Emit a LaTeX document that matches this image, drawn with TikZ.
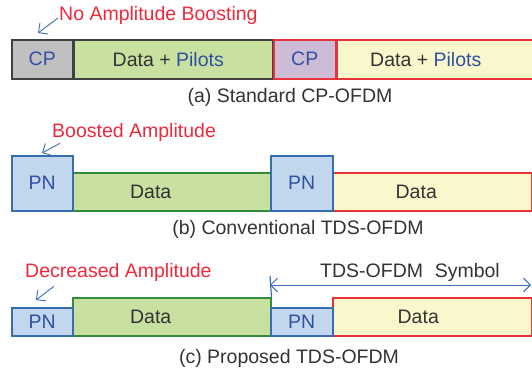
\documentclass[tikz,border=0pt]{standalone}
\usepackage{fontspec}
\setmainfont{Liberation Sans}
\usetikzlibrary{arrows.meta,positioning}
\definecolor{cpgray}{RGB}{192,192,192}
\definecolor{datagreen}{RGB}{200,224,160}
\definecolor{edgegreen}{RGB}{50,140,60}
\definecolor{cppurple}{RGB}{204,188,214}
\definecolor{symyellow}{RGB}{250,247,205}
\definecolor{edgered}{RGB}{232,50,60}
\definecolor{pnblue}{RGB}{194,214,238}
\definecolor{edgeblue}{RGB}{55,110,175}
\definecolor{txtblue}{RGB}{50,80,160}
\definecolor{notered}{RGB}{240,40,60}
\definecolor{arrblue}{RGB}{60,110,190}

\begin{document}
\begin{tikzpicture}[
        x=1pt, y=-1pt,
        every node/.style={font=\fontsize{19.5}{22}\selectfont, text=black!80},
        seg/.style={draw, line width=1.5pt, anchor=north west, inner sep=0pt},
        cpbox/.style={seg, text=txtblue},
        pnbox/.style={seg, fill=pnblue, draw=edgeblue, text=txtblue},
        greenbox/.style={seg, fill=datagreen, draw=edgegreen},
        yellowbox/.style={seg, fill=symyellow, draw=edgered},
        note/.style={text=notered, inner sep=1pt},
        arr/.style={-{Straight Barb[length=2.4mm]}, line width=0.9pt, arrblue},
        dim/.style={{Straight Barb[length=2.4mm]}-{Straight Barb[length=2.4mm]}, line width=0.9pt, arrblue}
    ]
        \useasboundingbox (0,0) rectangle (532,372);

        % (a) standard CP-OFDM
        \node[cpbox, fill=cpgray, draw=black!75, minimum width=61pt, minimum height=39pt] (cpA1) at (11,39) {CP};
        \node[greenbox, draw=black!75, minimum width=198pt, minimum height=39pt] (dataA1) at (cpA1.north east) {};
        \node[cpbox, fill=cppurple, draw=edgered, minimum width=62pt, minimum height=39pt] (cpA2) at (dataA1.north east) {CP};
        \node[yellowbox, minimum width=199pt, minimum height=39pt] (dataA2) at (cpA2.north east) {};
        \node[xshift=-5pt] (txtA1) at (dataA1.center) {Data + \textcolor{txtblue}{Pilots}};
        \node[xshift=-11pt] (txtA2) at (dataA2.center) {Data + \textcolor{txtblue}{Pilots}};

        \node[note, anchor=west] (lblA) at (58,15) {No Amplitude Boosting};
        \coordinate (tipA) at (38,33);
        \draw[arr] ([yshift=-3pt]lblA.west) -- (tipA);
        \node (capA) at (290,97) {(a) Standard CP-OFDM};

        % (b) conventional TDS-OFDM
        \node[greenbox, minimum width=198pt, minimum height=38pt] (dataB1) at (72,172) {};
        \node[yellowbox, minimum width=199pt, minimum height=38pt] (dataB2) at (332,172) {};
        \node[pnbox, minimum width=61pt, minimum height=55pt] (pnB1) at (11,155) {PN};
        \node[pnbox, minimum width=62pt, minimum height=55pt] (pnB2) at (270,155) {PN};
        \node[xshift=-21pt] (txtB1) at (dataB1.center) {Data};
        \node[xshift=-16pt] (txtB2) at (dataB2.center) {Data};

        \node[note, anchor=west] (lblB) at (51,132) {Boosted Amplitude};
        \coordinate (tipB) at (42,153);
        \draw[arr] ([xshift=9pt,yshift=-1pt]lblB.south west) -- (tipB);
        \node (capB) at (298,229) {(b) Conventional TDS-OFDM};

        % (c) proposed TDS-OFDM
        \node[greenbox, minimum width=198pt, minimum height=38pt] (dataC1) at (72,297) {};
        \node[yellowbox, minimum width=199pt, minimum height=38pt] (dataC2) at (332,297) {};
        \node[pnbox, minimum width=61pt, minimum height=28pt] (pnC1) at (11,307) {PN};
        \node[pnbox, minimum width=62pt, minimum height=28pt] (pnC2) at (270,307) {PN};
        \node[xshift=-21pt] (txtC1) at (dataC1.center) {Data};
        \node[xshift=-14pt] (txtC2) at (dataC2.center) {Data};

        \node[note, anchor=west] (lblC) at (24,272) {Decreased Amplitude};
        \coordinate (tipC) at (36,300);
        \draw[arr] ([xshift=30pt,yshift=-4pt]lblC.south west) -- (tipC);

        \coordinate (symTop) at (270,276);
        \coordinate (symL) at (270,285);
        \coordinate (symR) at (531,285);
        \draw[line width=1.2pt, edgeblue] (symTop) -- (dataC1.north east);
        \draw[dim] (symL) -- (symR);
        \node (symTxt) at (410,272) {TDS-OFDM\hspace{0.6em}Symbol};
        \node (capC) at (289,358) {(c) Proposed TDS-OFDM};
    \end{tikzpicture}
\end{document}
